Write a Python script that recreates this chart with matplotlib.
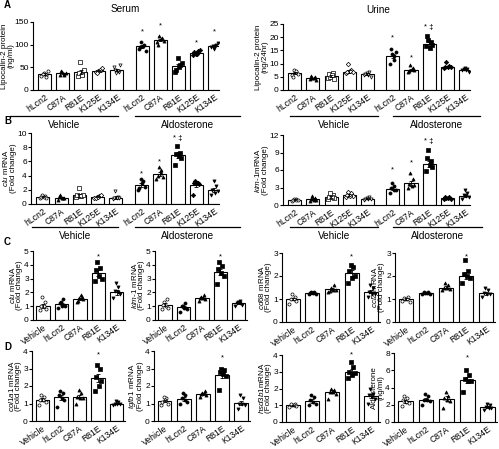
import matplotlib
matplotlib.use("Agg")
import matplotlib.pyplot as plt
from matplotlib.lines import Line2D
import numpy as np

plt.rcParams['font.family'] = ['Liberation Sans', 'DejaVu Sans']
plt.rcParams['mathtext.fontset'] = 'custom'
plt.rcParams['mathtext.it'] = 'Liberation Sans:italic'
plt.rcParams['mathtext.rm'] = 'Liberation Sans'

W, H = 499, 449

# ---- data -------------------------------------------------------------
mut10 = ["hLcn2", "C87A", "R81E", "K125E", "K134E"] * 2
grp5 = ["Vehicle", "hLcn2", "C87A", "R81E", "K134E"]

serum_means = [35, 37, 40, 43, 44, 96, 110, 53, 82, 97]
serum_pts = [[30, 33, 38, 42, 35, 28], [32, 35, 40, 38, 42, 34], [30, 35, 62, 45, 38, 33],
             [40, 45, 42, 48, 38, 44], [50, 40, 38, 55, 45, 42], [90, 100, 105, 85, 95, 98],
             [105, 115, 120, 108, 100, 112], [40, 55, 70, 60, 45, 50], [78, 85, 80, 88, 83, 80],
             [95, 100, 90, 103, 98, 96]]
serum_stars = {5: 128, 6: 141, 8: 104, 9: 128}

urine_means = [6.5, 4.5, 5.3, 7.0, 6.0, 13.0, 7.7, 17.5, 8.8, 7.7]
urine_pts = [[5.5, 7.0, 7.5, 6.0, 5.0, 7.2], [4.0, 5.0, 4.5, 3.8, 5.2, 4.6], [4.5, 6.5, 5.0, 4.0, 6.0, 5.5],
             [6.5, 7.5, 10.0, 7.0, 6.8, 7.2], [5.5, 7.0, 6.5, 5.0, 6.2, 5.8], [10.0, 11.5, 13.5, 14.5, 15.5, 13.0],
             [7.0, 8.5, 9.5, 7.5, 7.2, 7.8], [16.5, 18.0, 19.0, 17.0, 20.5, 16.0], [8.5, 9.0, 10.5, 8.6, 8.8, 8.9],
             [7.5, 8.0, 8.5, 7.0, 7.8, 7.6]]
urine_stars = {5: 19.7, 6: 12.0, 7: 23.5}

clu_b_means = [1.0, 0.9, 1.2, 1.0, 0.9, 2.7, 4.2, 6.9, 2.7, 2.0]
clu_b_pts = [[0.8, 1.1, 1.2, 0.9, 1.0, 1.0], [0.6, 0.9, 1.3, 0.8, 1.0, 0.9], [1.0, 1.1, 2.3, 1.3, 1.2, 1.1],
             [0.9, 1.1, 1.0, 1.2, 0.8, 1.0], [0.7, 1.0, 1.8, 0.8, 0.9, 0.9], [2.0, 3.2, 3.5, 2.4, 2.2, 2.9],
             [3.5, 4.8, 5.2, 3.8, 4.0, 4.4], [5.5, 7.2, 8.2, 6.5, 7.0, 6.8], [1.2, 3.0, 3.2, 2.8, 3.0, 2.9],
             [1.2, 2.5, 3.3, 1.8, 2.0, 1.5]]
clu_b_stars = {5: 4.3, 6: 5.9, 7: 9.2}

kim_b_means = [0.9, 1.0, 1.4, 1.7, 1.1, 2.8, 3.7, 7.0, 1.2, 1.6]
kim_b_pts = [[0.7, 1.0, 1.1, 0.8, 0.9, 0.9], [0.7, 1.2, 1.5, 0.9, 1.0, 0.8], [1.0, 1.8, 2.0, 1.2, 1.4, 1.3],
             [1.4, 2.0, 2.2, 1.6, 1.7, 1.5], [0.9, 1.3, 1.2, 1.0, 1.1, 1.0], [2.0, 3.2, 3.8, 2.5, 2.9, 2.6],
             [3.0, 4.5, 5.5, 3.4, 3.6, 3.2], [5.8, 7.5, 9.5, 6.5, 8.0, 6.8], [1.0, 1.3, 1.2, 1.1, 1.3, 1.2],
             [1.0, 2.0, 2.6, 1.3, 1.8, 1.5]]
kim_b_stars = {5: 6.0, 6: 7.2, 7: 10.8}

clu_c_means = [1.0, 1.15, 1.55, 3.4, 2.0]
clu_c_pts = [[0.7, 1.3, 1.7, 0.8, 1.0, 1.0], [0.9, 1.5, 1.3, 1.0, 1.2, 1.0], [1.3, 1.7, 1.6, 1.5, 1.4, 1.8],
             [2.8, 3.8, 4.2, 3.0, 3.6, 3.2], [1.6, 2.4, 2.7, 1.9, 2.1, 2.0]]
kim_c_means = [1.1, 0.95, 1.6, 3.5, 1.2]
kim_c_pts = [[0.8, 1.5, 1.3, 0.9, 1.1, 1.0], [0.6, 1.2, 1.0, 0.8, 1.0, 0.9], [1.4, 1.8, 1.7, 1.5, 1.6, 1.6],
             [2.6, 3.9, 4.2, 3.2, 3.7, 3.4], [1.0, 1.4, 1.3, 1.1, 1.2, 1.2]]
cd68_means = [1.0, 1.25, 1.42, 2.12, 1.32]
cd68_pts = [[0.8, 1.1, 1.2, 0.9, 1.0, 1.0], [1.2, 1.3, 1.3, 1.2, 1.25, 1.25], [1.3, 1.6, 1.5, 1.4, 1.35, 1.4],
            [1.7, 2.4, 2.5, 2.0, 2.2, 1.9], [1.1, 1.5, 1.6, 1.2, 1.3, 1.2]]
ccl2_means = [1.0, 1.25, 1.5, 2.02, 1.25]
ccl2_pts = [[0.9, 1.1, 1.0, 0.85, 1.05, 1.0], [1.2, 1.3, 1.25, 1.2, 1.3, 1.25], [1.4, 1.6, 1.7, 1.45, 1.5, 1.5],
            [1.7, 2.2, 2.7, 1.9, 2.1, 2.0], [1.1, 1.4, 1.5, 1.2, 1.25, 1.2]]

col_means = [1.22, 1.35, 1.4, 2.45, 1.0]
col_pts = [[0.9, 1.4, 1.5, 1.1, 1.2, 1.2], [0.8, 1.6, 1.7, 1.2, 1.5, 1.3], [1.0, 1.6, 1.8, 1.3, 1.4, 1.3],
           [1.7, 3.0, 3.2, 2.3, 2.5, 2.0], [0.9, 1.1, 1.15, 0.95, 1.0, 1.0]]
tgf_means = [1.15, 1.25, 1.55, 2.65, 1.05]
tgf_pts = [[0.9, 1.3, 1.4, 1.0, 1.1, 1.2], [1.0, 1.5, 1.6, 1.1, 1.3, 1.2], [1.4, 1.7, 1.6, 1.5, 1.55, 1.6],
           [1.8, 2.9, 3.0, 2.6, 2.8, 2.7], [0.7, 1.3, 1.5, 0.9, 1.0, 1.0]]
hsd_means = [1.0, 1.25, 1.8, 3.0, 1.55]
hsd_pts = [[0.9, 1.1, 1.0, 0.95, 1.05, 1.0], [1.0, 1.5, 1.6, 1.1, 1.3, 1.2], [1.4, 1.9, 2.0, 1.7, 1.8, 1.8],
           [2.6, 3.3, 3.6, 2.9, 3.0, 2.8], [1.1, 1.7, 2.0, 1.4, 1.6, 1.5]]
ald_means = [2.4, 2.6, 2.7, 4.9, 1.7]
ald_pts = [[1.8, 2.8, 3.0, 2.2, 2.5, 2.3], [2.0, 3.0, 3.2, 2.4, 2.6, 2.6], [1.6, 3.0, 3.5, 2.4, 2.8, 2.6],
           [3.5, 5.5, 6.0, 4.8, 5.0, 4.7], [1.4, 2.0, 2.1, 1.6, 1.7, 1.6]]

x10 = [0, 1, 2, 3, 4, 5.4, 6.4, 7.4, 8.4, 9.4]
x5 = [0, 1, 2, 3, 4]
jit = [-0.2, 0.1, -0.05, 0.2, -0.12, 0.05]

mk10 = [("o", "white"), ("^", "black"), ("s", "white"), ("D", "white"), ("v", "white"),
        ("o", "black"), ("^", "black"), ("s", "black"), ("D", "black"), ("v", "black")]
mk5 = [("o", "white"), ("o", "black"), ("^", "black"), ("s", "black"), ("v", "black")]

fig = plt.figure(figsize=(W / 100, H / 100), dpi=100)


def px_axes(l, t, r, b):
    return fig.add_axes([l / W, 1 - b / H, (r - l) / W, (b - t) / H])


def draw(ax, x, means, pts, marks, labels, ylim, yticks, ylabel, stars=None, dagger=None, xlim=None):
    ax.bar(x, means, width=0.72, color="white", edgecolor="black", linewidth=0.8, zorder=1)
    for i, (xi, p) in enumerate(zip(x, pts)):
        m, fc = marks[i]
        ax.scatter([xi + j * 0.9 for j in jit[:len(p)]], p, marker=m, s=5,
                   facecolor=fc, edgecolor="black", linewidth=0.5, zorder=3)
        sem = np.std(p, ddof=1) / np.sqrt(len(p))
        ax.errorbar(xi, means[i], yerr=sem, color="black", capsize=1.6, lw=0.6,
                    capthick=0.6, zorder=4)
    if stars:
        for i, v in stars.items():
            lab = "*" if dagger != i else "* \u2021"
            ax.text(x[i], v, lab, ha="center", va="center", fontsize=5.5)
    ax.set_ylim(*ylim)
    ax.set_yticks(yticks)
    ax.set_xlim(*xlim)
    ax.set_xticks(x)
    ax.set_xticklabels(labels, rotation=35, ha="right", rotation_mode="anchor", fontsize=6.2)
    ax.tick_params(axis="y", labelsize=6, length=2.2, width=0.8, pad=0.8)
    ax.tick_params(axis="x", length=0, pad=2)
    ax.set_ylabel(ylabel, fontsize=5.8, labelpad=0.5, linespacing=0.95)
    for s in ("top", "right"):
        ax.spines[s].set_visible(False)
    for s in ("left", "bottom"):
        ax.spines[s].set_linewidth(0.8)


def hline(x0, x1, y):
    fig.add_artist(Line2D([x0 / W, x1 / W], [1 - y / H, 1 - y / H], color="black", lw=0.9))


def ftext(x, y, s, **kw):
    fig.text(x / W, 1 - y / H, s, ha="center", va="center", **kw)


xl10 = (-0.65, 9.65)
xl5 = (-0.55, 4.45)

# ---- panel A
ax = px_axes(33, 22, 219, 90)
draw(ax, x10, serum_means, serum_pts, mk10, mut10, (0, 150), [0, 50, 100, 150],
     "Lipocalin-2 protein\n(ng/ml)", serum_stars, xlim=xl10)
ax.yaxis.labelpad = 0
ax = px_axes(283, 24, 470, 90)
draw(ax, x10, urine_means, urine_pts, mk10, mut10, (0, 25), [0, 5, 10, 15, 20, 25],
     "Lipocalin-2 protein\n(ng/24hr)", urine_stars, dagger=7, xlim=xl10)
ftext(125, 9, "Serum", fontsize=7.2)
ftext(378, 10, "Urine", fontsize=7.2)
for (a, b, c, lab) in [(10, 118, 116, "Vehicle"), (135, 240, 116, "Aldosterone"),
                       (290, 378, 116, "Vehicle"), (393, 480, 116, "Aldosterone")]:
    hline(a, b, c)
    ftext((a + b) / 2, c + 9, lab, fontsize=7.2)

# ---- panel B
ax = px_axes(31, 133, 219, 204)
draw(ax, x10, clu_b_means, clu_b_pts, mk10, mut10, (0, 10), [0, 2, 4, 6, 8, 10],
     "$\\mathit{clu}$ mRNA\n(Fold change)", clu_b_stars, dagger=7, xlim=xl10)
ax = px_axes(283, 135, 470, 205)
draw(ax, x10, kim_b_means, kim_b_pts, mk10, mut10, (0, 12), [0, 3, 6, 9, 12],
     "$\\mathit{kim}$-$\\mathit{1}$mRNA\n(Fold change)", kim_b_stars, dagger=7, xlim=xl10)
for (a, b, c, lab) in [(32, 118, 227, "Vehicle"), (135, 240, 227, "Aldosterone"),
                       (290, 378, 227, "Vehicle"), (393, 482, 227, "Aldosterone")]:
    hline(a, b, c)
    ftext((a + b) / 2, c + 9, lab, fontsize=7.2)

# ---- panel C
ax = px_axes(33, 251, 125, 320)
draw(ax, x5, clu_c_means, clu_c_pts, mk5, grp5, (0, 5), [0, 1, 2, 3, 4, 5],
     "$\\mathit{clu}$ mRNA\n(Fold change)", {3: 4.6}, xlim=xl5)
ax = px_axes(155, 251, 247, 320)
draw(ax, x5, kim_c_means, kim_c_pts, mk5, grp5, (0, 5), [0, 1, 2, 3, 4, 5],
     "$\\mathit{kim}$-$\\mathit{1}$ mRNA\n(Fold change)", {3: 4.6}, xlim=xl5)
ax = px_axes(282, 253, 380, 322)
draw(ax, x5, cd68_means, cd68_pts, mk5, grp5, (0, 3), [0, 1, 2, 3],
     "$\\mathit{cd68}$ mRNA\n(Fold change)", {3: 2.85}, xlim=xl5)
ax = px_axes(395, 253, 495, 322)
draw(ax, x5, ccl2_means, ccl2_pts, mk5, grp5, (0, 3), [0, 1, 2, 3],
     "$\\mathit{ccl2}$ mRNA\n(Fold change)", {3: 2.85}, xlim=xl5)

# ---- panel D
ax = px_axes(32, 351, 125, 421)
draw(ax, x5, col_means, col_pts, mk5, grp5, (0, 4), [0, 1, 2, 3, 4],
     "$\\mathit{col1a1}$ mRNA\n(Fold change)", {3: 3.75}, xlim=xl5)
ax = px_axes(154, 351, 250, 421)
draw(ax, x5, tgf_means, tgf_pts, mk5, grp5, (0, 4), [0, 1, 2, 3, 4],
     "$\\mathit{tgfb1}$ mRNA\n(Fold change)", {3: 3.6}, xlim=xl5)
ax = px_axes(282, 355, 380, 422)
draw(ax, x5, hsd_means, hsd_pts, mk5, grp5, (0, 4), [0, 1, 2, 3, 4],
     "$\\mathit{hsd3b1}$mRNA\n(Fold change)", {3: 4.0}, xlim=xl5)
ax = px_axes(394, 353, 497, 422)
draw(ax, x5, ald_means, ald_pts, mk5, grp5, (0, 8), [0, 2, 4, 6, 8],
     "Aldosterone\n(ng/ml)", {3: 7.4}, xlim=xl5)

for lab, x, y in [("A", 4, 5), ("B", 4, 121), ("C", 4, 242), ("D", 4, 347)]:
    fig.text(x / W, 1 - y / H, lab, fontsize=7, fontweight="bold", ha="left", va="center")

fig.savefig("out.png", dpi=100)
